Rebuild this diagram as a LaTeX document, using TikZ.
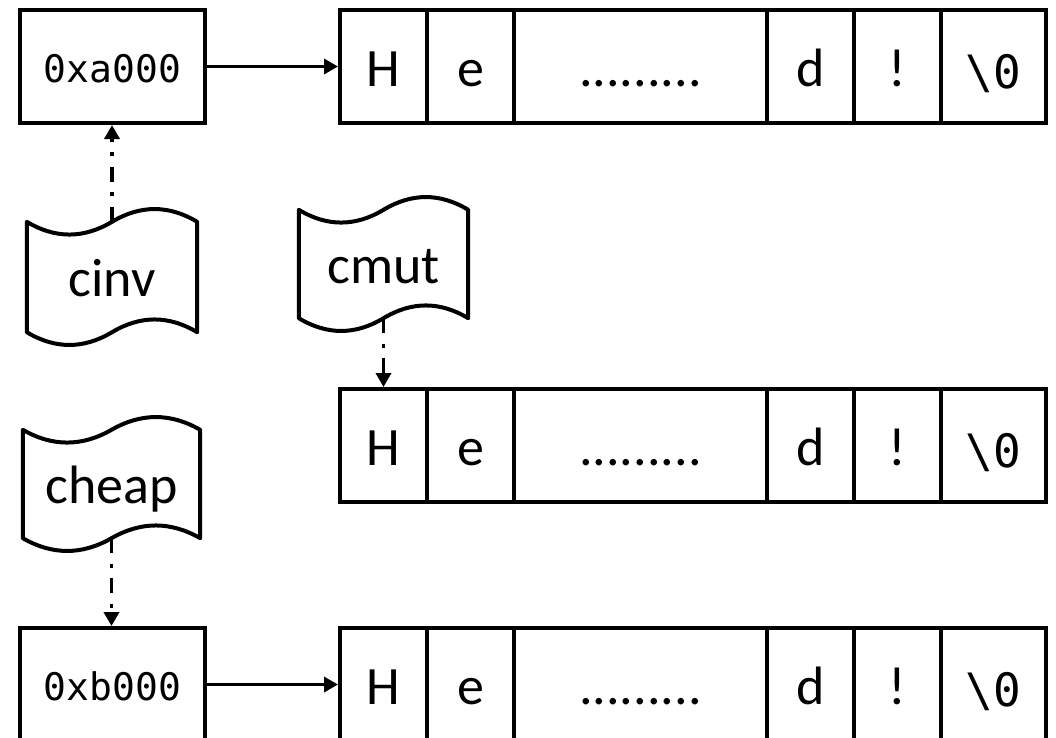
\documentclass[tikz,border=0pt]{standalone}
\usepackage{fontspec}
\usetikzlibrary{arrows.meta,calc}
\newfontfamily\labelfont{Carlito}
\newfontfamily\codefont{DejaVu Sans Mono}

% one row of character cells: #1 = name prefix, #2 = y of the row centre
\newcommand{\strrow}[2]{%
  \node[cell, minimum width=87pt]  (#1H)    at (383.5,#2) {H};
  \node[cell, minimum width=87pt]  (#1e)    at (470.5,#2) {e};
  \node[cell, minimum width=253pt] (#1dots) at (640.5,#2) {.........};
  \node[cell, minimum width=87pt]  (#1d)    at (810.5,#2) {d};
  \node[cell, minimum width=87pt]  (#1bang) at (897.5,#2) {!};
  \node[nulcell, minimum width=105pt] (#1nul) at (993.5,#2) {\textbackslash0};
}

% wavy "tape" outline around a named node
\newcommand{\tapeoutline}[1]{%
  \draw[shapeline] let \p1=(#1.north west), \p2=(#1.south east), \n1={(\x2-\x1)/6} in
    (\x1,\y1) .. controls (\x1+\n1,\y1-17) and (\x1+2*\n1,\y1-17) .. (\x1+3*\n1,\y1)
              .. controls (\x1+4*\n1,\y1+17) and (\x1+5*\n1,\y1+17) .. (\x2,\y1)
    -- (\x2,\y2)
              .. controls (\x2-\n1,\y2+17) and (\x2-2*\n1,\y2+17) .. (\x2-3*\n1,\y2)
              .. controls (\x2-4*\n1,\y2-17) and (\x2-5*\n1,\y2-17) .. (\x1,\y2)
    -- cycle;
}

\begin{document}
\begin{tikzpicture}[x=1pt, y=-1pt,
  shapeline/.style={line width=4pt, line join=round},
  cell/.style={draw, line width=4pt, minimum height=113pt, inner sep=0pt,
    font=\labelfont\fontsize{54}{60}\selectfont, text height=39pt, text depth=0pt},
  nulcell/.style={cell, font=\codefont\fontsize{46}{54}\selectfont, text height=43pt},
  hexbox/.style={draw, line width=4pt, minimum width=185pt, minimum height=113pt,
    inner sep=0pt, font=\codefont\fontsize{38}{44}\selectfont, text height=32pt, text depth=0pt},
  tapebox/.style={inner sep=0pt, font=\labelfont\fontsize{54}{60}\selectfont,
    text height=38pt, text depth=0pt},
  ptr/.style={line width=3.4pt, -{Triangle[length=14pt, width=15pt]}},
  ref/.style={line width=3.6pt, dash pattern=on 15pt off 11pt on 4pt off 10pt,
    -{Triangle[length=14pt, width=15pt]}}
]
\useasboundingbox (0,0) rectangle (1056,737);
\clip (0,0) rectangle (1056,737);
\fill[white] (0,0) rectangle (1056,737);

% pointer boxes
\node[hexbox] (hexa) at (112.5,66.5) {0xa000};
\node[hexbox] (hexb) at (112.5,684.5) {0xb000};

% string storage
\strrow{a}{66.5}
\strrow{m}{445.5}
\strrow{b}{684.5}

% variables
\node[tapebox, minimum width=170pt, minimum height=110pt] (cinv)  at (112,277)   {cinv};
\node[tapebox, minimum width=169pt, minimum height=108pt] (cmut)  at (383.5,264) {cmut};
\node[tapebox, minimum width=177pt, minimum height=108pt] (cheap) at (111.5,484) {cheap};
\tapeoutline{cinv}
\tapeoutline{cmut}
\tapeoutline{cheap}

% connectors
\draw[ptr] (hexa.east) -- (aH.west);
\draw[ptr] (hexb.east) -- (bH.west);
\draw[ref] (cinv.north) -- (cinv.north |- hexa.south);
\draw[ref] (cmut.south) -- (mH.north);
\draw[ref] (cheap.south) -- (cheap.south |- hexb.north);
\end{tikzpicture}
\end{document}
